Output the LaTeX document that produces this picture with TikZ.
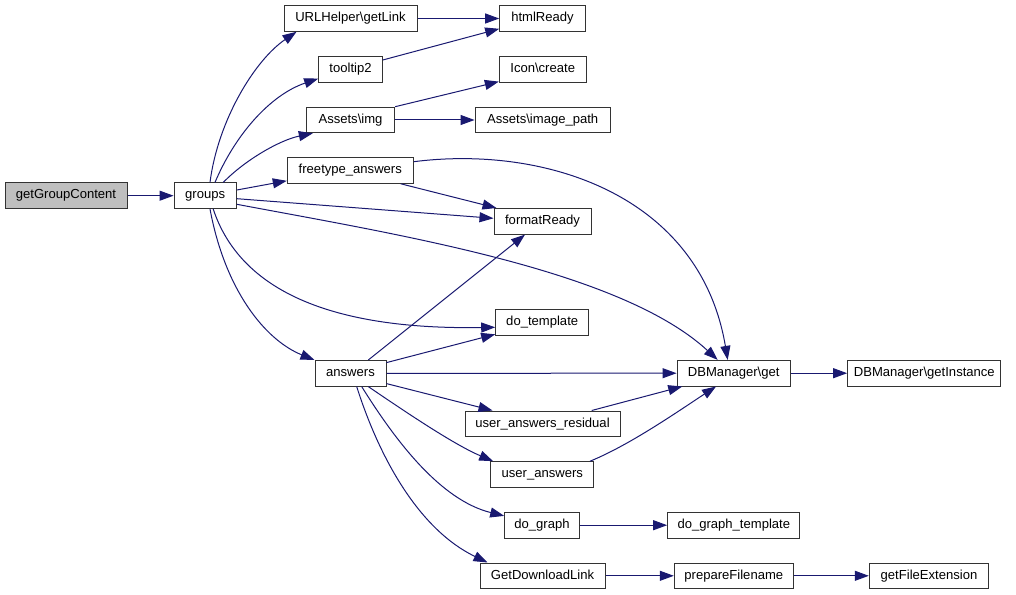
\documentclass[tikz,border=0pt]{standalone}
\usepackage{fontspec}
\setmainfont{Liberation Sans}
\usetikzlibrary{arrows.meta,calc}
\definecolor{edgecol}{HTML}{191970}
\definecolor{rootfill}{HTML}{BFBFBF}
\begin{document}
\begin{tikzpicture}[x=0.75pt,y=-0.75pt,
  box/.style={draw=black!80, line width=0.75pt, fill=white, minimum height=19.2pt,
    inner sep=0pt, text height=7.2pt, text depth=2.4pt,
    font=\fontsize{9.8}{11.5}\selectfont, text=black},
  w/.style={minimum width=#1*0.75pt},
  e/.style={draw=edgecol, line width=0.75pt, -{Triangle[length=10.5pt,width=7.5pt,fill=edgecol]}}]
\path[use as bounding box] (0,0) rectangle (1016,595);

% nodes
\node[box,w=122,fill=rootfill] (ggc) at (66,195.7) {getGroupContent};
\node[box,w=62.3] (groups) at (205.2,195.7) {groups};
\node[box,w=133] (getlink) at (350.5,18.5) {URLHelper\textbackslash getLink};
\node[box,w=85.6] (htmlready) at (542.5,18.5) {htmlReady};
\node[box,w=63.6] (tooltip) at (350.5,69.3) {tooltip2};
\node[box,w=86.7] (iconcreate) at (542.7,69.3) {Icon\textbackslash create};
\node[box,w=88.4] (assetsimg) at (350.5,120) {Assets\textbackslash img};
\node[box,w=135.3] (imagepath) at (542.7,120) {Assets\textbackslash image\_path};
\node[box,w=126] (freetype) at (350.3,170.5) {freetype\_answers};
\node[box,w=97] (formatready) at (542.5,221.3) {formatReady};
\node[box,w=93] (dotemplate) at (542.2,322.7) {do\_template};
\node[box,w=71] (answers) at (350.5,373.3) {answers};
\node[box,w=113.3] (dbget) at (733.7,373.2) {DBManager\textbackslash get};
\node[box,w=153.3] (dbinst) at (924.3,373.2) {DBManager\textbackslash getInstance};
\node[box,w=155] (uar) at (542.5,423.8) {user\_answers\_residual};
\node[box,w=103.3] (ua) at (542.3,474.5) {user\_answers};
\node[box,w=74.6] (dograph) at (542,525.2) {do\_graph};
\node[box,w=132.3] (dographtpl) at (733.8,525.2) {do\_graph\_template};
\node[box,w=125] (gdl) at (542.5,575.8) {GetDownloadLink};
\node[box,w=119] (prepfile) at (733.8,575.8) {prepareFilename};
\node[box,w=119.4] (getfileext) at (929,575.8) {getFileExtension};

% straight edges
\draw[e] (ggc) -- (groups);
\draw[e] (getlink) -- (htmlready);
\draw[e] (assetsimg) -- (imagepath);
\draw[e] (answers) -- (dbget);
\draw[e] (dbget) -- (dbinst);
\draw[e] (dograph) -- (dographtpl);
\draw[e] (gdl) -- (prepfile);
\draw[e] (prepfile) -- (getfileext);

% from groups
\draw[e] ($(groups.north)+(4.8,0)$) .. controls (218,120) and (255,60) .. ($(getlink.south west)+(13,0)$);
\draw[e] ($(groups.north)+(9.8,0)$) .. controls (235,135) and (270,95) .. ($(tooltip.south west)+(0,-4)$);
\draw[e] ($(groups.north)+(18.1,0)$) .. controls (245,160) and (280,140) .. ($(assetsimg.south west)+(7,0)$);
\draw[e] ($(groups.east)+(0,-5.7)$) -- ($(freetype.south west)+(0,-3)$);
\draw[e] ($(groups.east)+(0,3)$) -- ($(formatready.west)+(0,-3)$);
\draw[e] ($(groups.south east)+(0,-4.7)$) .. controls (400,235) and (620,270) .. ($(dbget.north)+(-16,0)$);
\draw[e] ($(groups.south)+(8,0)$) .. controls (240,290) and (330,330) .. ($(dotemplate.west)+(0,4.6)$);
\draw[e] ($(groups.south)+(4.8,0)$) .. controls (225,290) and (265,340) .. (answers.north west);

% from freetype
\draw[e] ($(freetype.south east)+(-13,0)$) -- ($(formatready.north west)+(3,0)$);
\draw[e] ($(freetype.east)+(0,-8.8)$) .. controls (545,145) and (700,195) .. ($(dbget.north)+(-6,0)$);

% top
\draw[e] ($(tooltip.north east)+(0,4)$) -- ($(htmlready.south west)+(0,-3)$);
\draw[e] (assetsimg.north east) -- ($(iconcreate.south west)+(0,-1)$);

% from answers
\draw[e] ($(answers.north)+(17.8,0)$) -- ($(formatready.south)+(-17.5,0)$);
\draw[e] ($(answers.north east)+(0,2.6)$) -- ($(dotemplate.south west)+(0,-1.7)$);
\draw[e] ($(answers.south east)+(0,-3)$) -- ($(uar.north west)+(28,0)$);
\draw[e] ($(answers.south)+(17.8,0)$) .. controls (410,415) and (455,445) .. ($(ua.north west)+(3,0)$);
\draw[e] ($(answers.south)+(11.2,0)$) .. controls (395,440) and (440,500) .. ($(dograph.north west)+(0,4)$);
\draw[e] ($(answers.south)+(6.2,0)$) .. controls (380,460) and (420,530) .. ($(gdl.north west)+(8,0)$);

% into DBManager\get
\draw[e] ($(uar.north)+(49.2,0)$) -- ($(dbget.south west)+(5.7,0)$);
\draw[e] ($(ua.north)+(47.7,0)$) .. controls (630,445) and (680,410) .. ($(dbget.south)+(-17.7,0)$);
\end{tikzpicture}
\end{document}
